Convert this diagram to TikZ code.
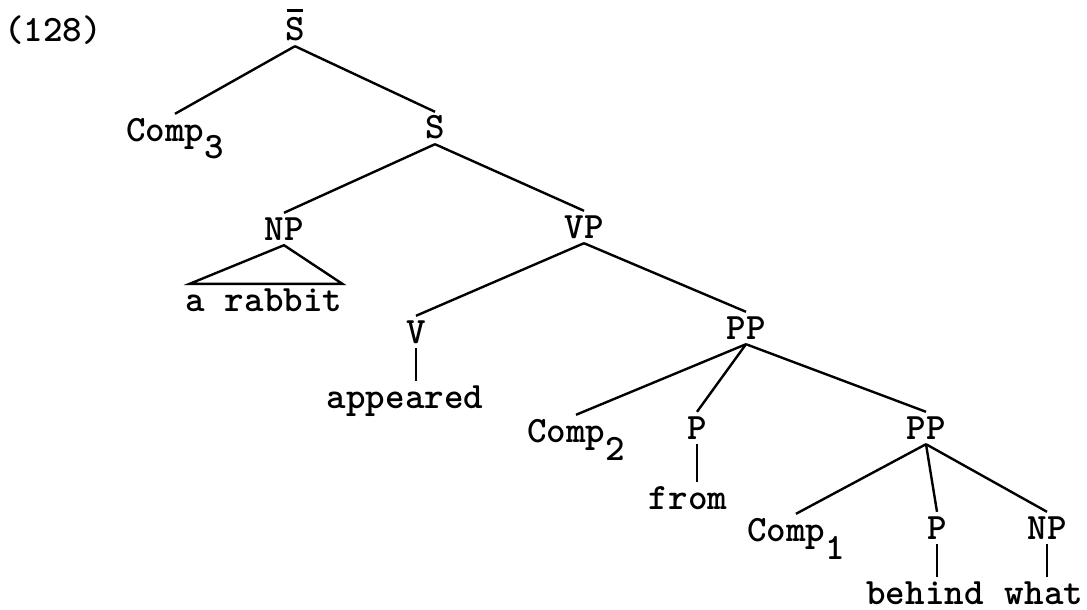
\documentclass[tikz,border=0pt]{standalone}
\newcommand{\typesub}[1]{\raisebox{-9pt}{#1}}
\newcommand{\barS}{\makebox[0pt][l]{\hspace{0.9pt}\raisebox{14.5pt}{\rule{7.8pt}{1.4pt}}}S}
\begin{document}
\begin{tikzpicture}[x=0.5pt,y=-0.5pt,line width=1.2pt,
    every node/.style={font=\fontsize{18.6}{20}\selectfont\ttfamily\bfseries,
      inner sep=2pt,text height=11pt,text depth=0pt}]
  \useasboundingbox (0,0) rectangle (1087,610);
  \draw
    (53,31) node (num){(128)}
    (295,30) node (sbar){\barS}
    (175,130) node (comp3){Comp\typesub{3}}
    (435,128) node (s){S}
    (284,229) node (np){NP}
    (584,227) node (vp){VP}
    (264,300) node (rabbit){a rabbit}
    (416,332) node (v){V}
    (405,397) node (appeared){appeared}
    (746,328) node (pp){PP}
    (576,431) node (comp2){Comp\typesub{2}}
    (697,428) node (p){P}
    (688,498) node (from){from}
    (926,428) node (pp2){PP}
    (796,530) node (comp1){Comp\typesub{1}}
    (937,528) node (p2){P}
    (1047,528) node (np2){NP}
    (925,593) node (behind){behind}
    (1044,593) node (what){what};
  \begin{scope}[-]
    \draw (sbar.south) to (comp3.north);
    \draw (sbar.south) to (s.north);
    \draw (s.south) to (np.north);
    \draw (s.south) to (vp.north);
    \draw (np.south) -- ([xshift=4.5pt]rabbit.north west)
      -- ([xshift=-2.5pt]rabbit.north east) -- cycle;
    \draw (vp.south) to (v.north);
    \draw (vp.south) to (pp.north);
    \draw (v.south) to (v.south |- appeared.north);
    \draw (pp.south) to (comp2.north);
    \draw (pp.south) to (p.north);
    \draw (pp.south) to (pp2.north);
    \draw (p.south) to (p.south |- from.north);
    \draw (pp2.south) to (comp1.north);
    \draw (pp2.south) to (p2.north);
    \draw (pp2.south) to (np2.north);
    \draw (p2.south) to (p2.south |- behind.north);
    \draw (np2.south) to (np2.south |- what.north);
  \end{scope}
\end{tikzpicture}
\end{document}
